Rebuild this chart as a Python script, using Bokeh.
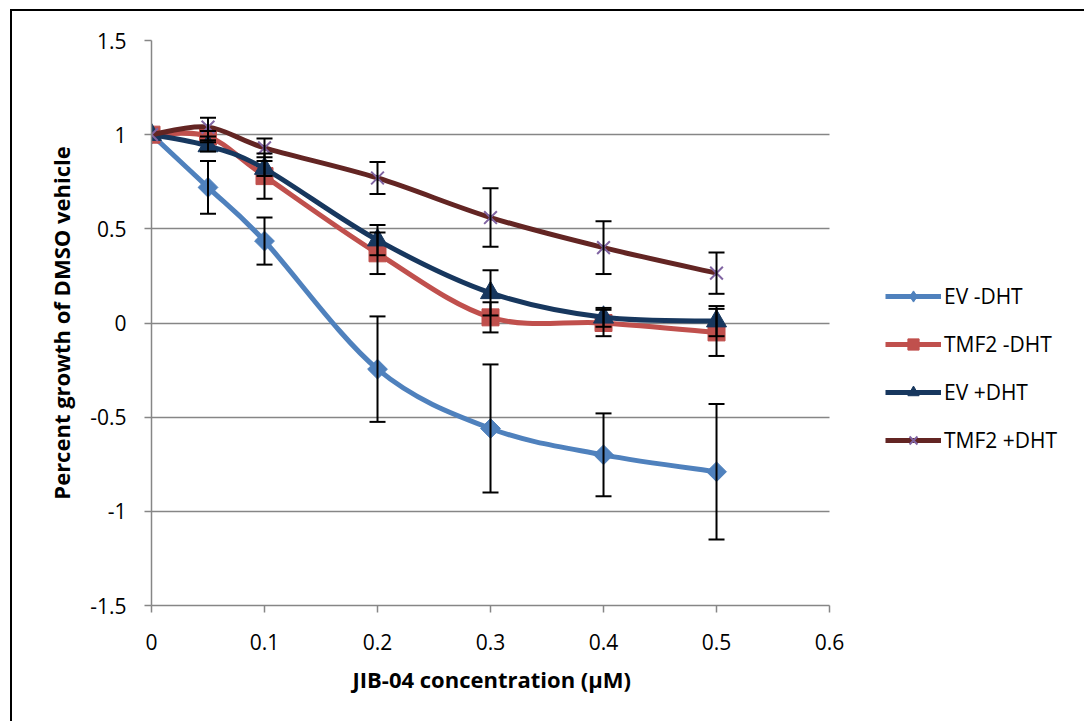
import numpy as np
from bokeh.plotting import figure
from bokeh.models import (FixedTicker, Whisker, ColumnDataSource, Legend, LegendItem,
                          TeeHead, Range1d, Title)
from bokeh.embed import file_html
from bokeh.resources import INLINE

# ---------------- data ----------------
conc = [0, 0.05, 0.1, 0.2, 0.3, 0.4, 0.5]
ev_minus = [1.0, 0.72, 0.435, -0.245, -0.56, -0.70, -0.79]
ev_minus_err = [0.0, 0.14, 0.125, 0.28, 0.34, 0.22, 0.36]
tmf2_minus = [1.0, 0.99, 0.78, 0.37, 0.03, 0.0, -0.05]
tmf2_minus_err = [0.0, 0.03, 0.12, 0.11, 0.08, 0.07, 0.125]
ev_plus = [1.0, 0.94, 0.82, 0.44, 0.16, 0.03, 0.01]
ev_plus_err = [0.0, 0.03, 0.04, 0.08, 0.12, 0.05, 0.08]
tmf2_plus = [1.0, 1.04, 0.93, 0.77, 0.56, 0.40, 0.265]
tmf2_plus_err = [0.0, 0.05, 0.05, 0.085, 0.155, 0.14, 0.11]

series_names = ["EV -DHT", "TMF2 -DHT", "EV +DHT", "TMF2 +DHT"]
x_ticks = [0, 0.1, 0.2, 0.3, 0.4, 0.5, 0.6]
x_tick_labels = ["0", "0.1", "0.2", "0.3", "0.4", "0.5", "0.6"]
y_ticks = [-1.5, -1, -0.5, 0, 0.5, 1, 1.5]
y_tick_labels = ["-1.5", "-1", "-0.5", "0", "0.5", "1", "1.5"]
x_axis_min, x_axis_max = 0, 0.6
x_title = "JIB-04 concentration (µM)"
y_title = "Percent growth of DMSO vehicle"

# ---------------- styles ----------------
FONT = "Open Sans"
GRID = "#868686"
styles = [
    dict(line="#4F81BD", marker="square", angle=np.pi / 4, size=14, fill="#4F81BD", mline="#4F81BD", mw=1, lmarker="diamond"),
    dict(line="#C0504D", marker="square", angle=0, size=17, fill="#C0504D", mline="#C0504D", mw=1, lmarker=None),
    dict(line="#17375E", marker="triangle", angle=0, size=20, fill="#17375E", mline="#17375E", mw=1, lmarker=None),
    dict(line="#632523", marker="x", angle=0, size=18, fill=None, mline="#8064A2", mw=2, lmarker=None),
]

# frame spans the plot area plus the legend area; axis and grid are bounded to 0..0.6
FRAME_EXTRA = 0.2221
p = figure(width=1074, height=712, output_backend="svg", toolbar_location=None,
           x_range=Range1d(x_axis_min, x_axis_max + FRAME_EXTRA), y_range=Range1d(-1.5, 1.5),
           min_border_left=139, min_border_right=6, min_border_top=29, min_border_bottom=118)
p.styles = {"margin-left": "10px", "margin-top": "9px",
            "border-left": "2px solid black", "border-top": "2px solid black"}
p.outline_line_color = None
p.background_fill_color = "white"
p.border_fill_color = "white"

# axes
p.xaxis.ticker = FixedTicker(ticks=x_ticks)
p.yaxis.ticker = FixedTicker(ticks=y_ticks)
p.xaxis.bounds = (x_axis_min, x_axis_max)
p.xaxis.major_label_overrides = {t: l for t, l in zip(x_ticks, x_tick_labels)}
p.yaxis.major_label_overrides = {t: l for t, l in zip(y_ticks, y_tick_labels)}
for ax in (p.xaxis[0], p.yaxis[0]):
    ax.axis_line_color = GRID
    ax.axis_line_width = 1.5
    ax.major_tick_line_color = GRID
    ax.major_tick_line_width = 1.5
    ax.major_tick_out = 7
    ax.major_tick_in = 0
    ax.minor_tick_line_color = None
    ax.major_label_text_font = FONT
    ax.major_label_text_font_size = "21px"
    ax.major_label_text_color = "black"
    ax.axis_label_text_font = FONT
    ax.axis_label_text_font_style = "bold"
    ax.axis_label_text_color = "black"
    ax.axis_label_text_font_size = "22px"
p.yaxis.axis_label = y_title
p.xaxis.major_label_standoff = 21
p.yaxis.major_label_standoff = 18
p.yaxis.axis_label_standoff = 11

# x-axis title centred under the 0..0.6 plot area (not under the legend)
xt = Title(text=x_title, align="left", offset=201, text_font=FONT, text_font_size="22px",
           text_font_style="bold", text_color="black", standoff=18)
p.add_layout(xt, "below")

p.xgrid.grid_line_color = None
p.ygrid.grid_line_color = GRID
p.ygrid.grid_line_width = 1.5
p.ygrid.cross_bounds = (x_axis_min, x_axis_max)


def bezier_src(xs, ys):
    n = len(xs)
    d = dict(x0=[], y0=[], x1=[], y1=[], cx0=[], cy0=[], cx1=[], cy1=[])
    for i in range(n - 1):
        a = i - 1 if i > 0 else i
        b = i + 2 if i + 2 < n else i + 1
        d["x0"].append(xs[i]); d["y0"].append(ys[i])
        d["x1"].append(xs[i + 1]); d["y1"].append(ys[i + 1])
        d["cx0"].append(xs[i] + (xs[i + 1] - xs[a]) / 6)
        d["cy0"].append(ys[i] + (ys[i + 1] - ys[a]) / 6)
        d["cx1"].append(xs[i + 1] - (xs[b] - xs[i]) / 6)
        d["cy1"].append(ys[i + 1] - (ys[b] - ys[i]) / 6)
    return ColumnDataSource(d)


all_vals = [ev_minus, tmf2_minus, ev_plus, tmf2_plus]
all_errs = [ev_minus_err, tmf2_minus_err, ev_plus_err, tmf2_plus_err]
items = []
for name, vals, errs, st in zip(series_names, all_vals, all_errs, styles):
    esrc = ColumnDataSource(dict(
        base=[c for c, e in zip(conc, errs) if e > 0],
        upper=[v + e for v, e in zip(vals, errs) if e > 0],
        lower=[v - e for v, e in zip(vals, errs) if e > 0]))
    w = Whisker(source=esrc, base="base", upper="upper", lower="lower",
                line_color="black", line_width=2, level="glyph",
                upper_head=TeeHead(size=16, line_color="black", line_width=2),
                lower_head=TeeHead(size=16, line_color="black", line_width=2))
    p.add_layout(w)
    lr = p.bezier(x0="x0", y0="y0", x1="x1", y1="y1", cx0="cx0", cy0="cy0", cx1="cx1", cy1="cy1",
                  source=bezier_src(conc, vals), line_color=st["line"], line_width=5)
    sr = p.scatter(conc, vals, marker=st["marker"], size=st["size"], angle=st["angle"],
                   fill_color=st["fill"], line_color=st["mline"], line_width=st["mw"])
    rends = [lr, sr]
    if st["lmarker"]:
        # legend-only marker (Excel's diamond); not drawn in the plot itself
        lm = p.scatter(conc, vals, marker=st["lmarker"], size=st["size"],
                       fill_color=st["fill"], line_color=st["mline"], visible=False)
        rends = [lr, lm]
    items.append(LegendItem(label=name, renderers=rends))

legend = Legend(items=items, location=(734, 151), orientation="vertical",
                label_text_font=FONT, label_text_font_size="21px", label_text_color="black",
                glyph_width=56, glyph_height=28, label_height=28, spacing=20,
                padding=0, margin=0, label_standoff=3,
                border_line_color=None, background_fill_alpha=0)
p.add_layout(legend)

open("out.html", "w").write(file_html(p, INLINE))
